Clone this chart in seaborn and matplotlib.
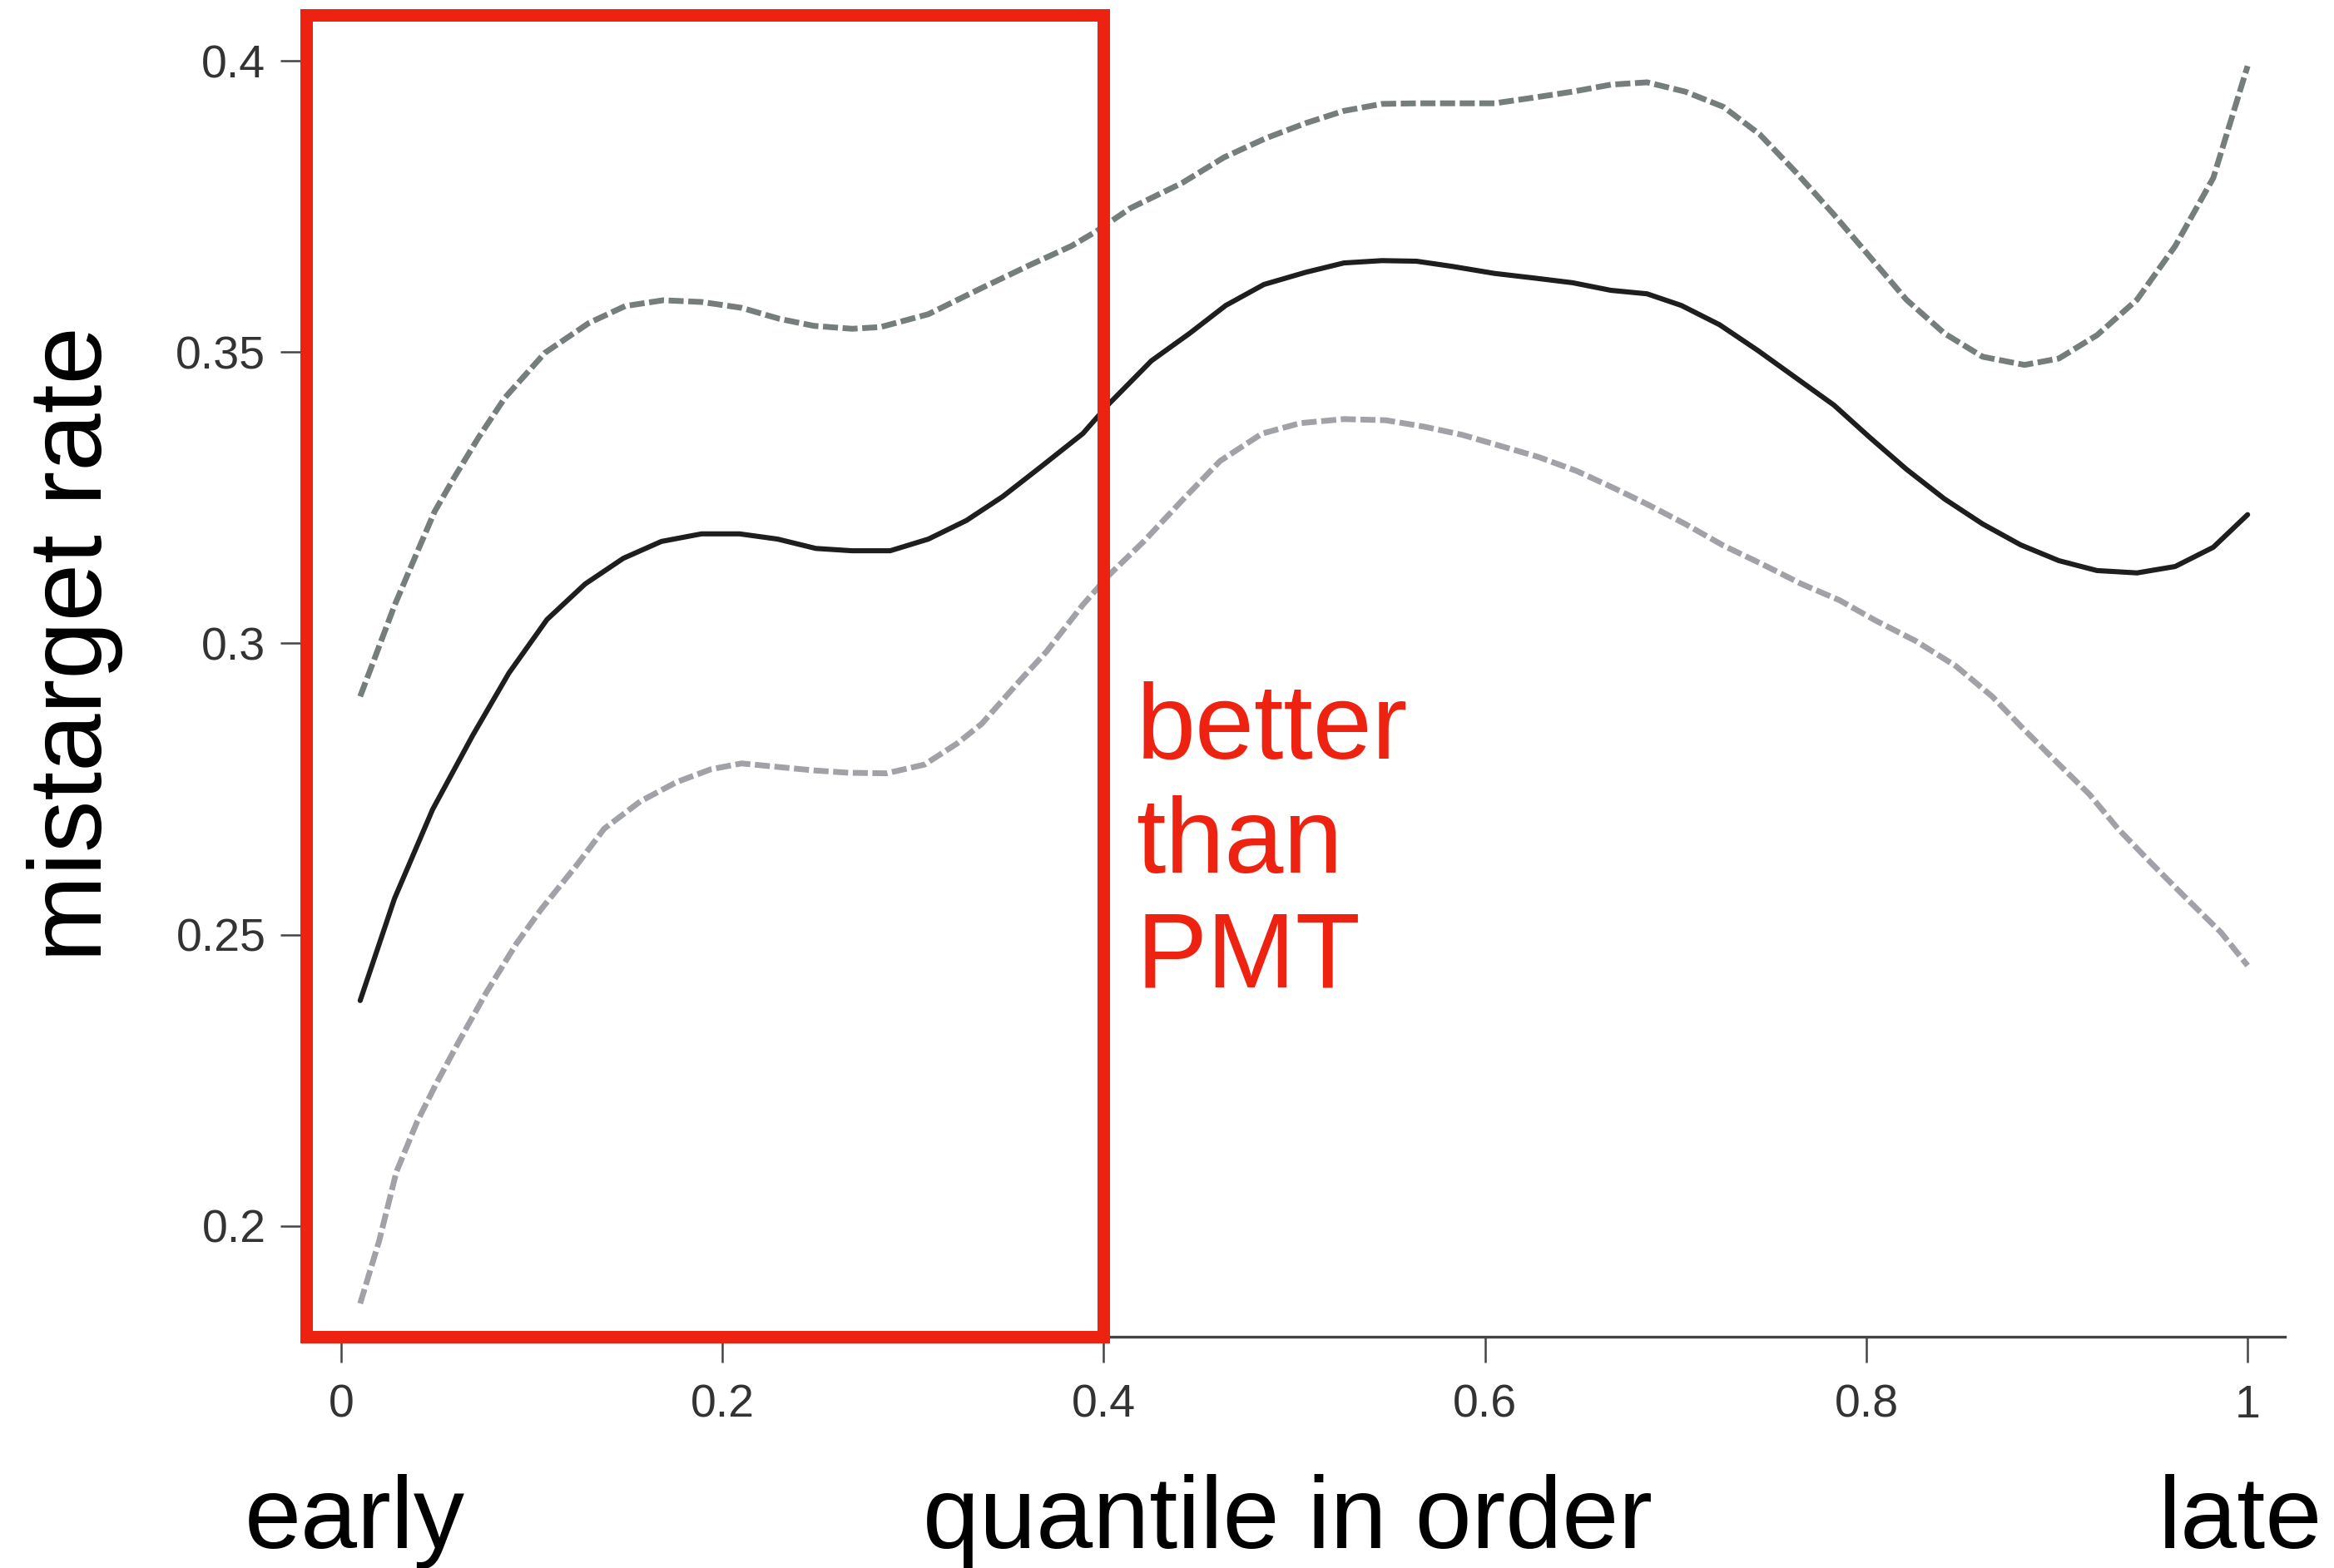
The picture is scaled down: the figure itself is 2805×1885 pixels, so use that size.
import numpy as np
import pandas as pd
import matplotlib
matplotlib.use("Agg")
import matplotlib.pyplot as plt
from matplotlib.patches import Rectangle
import seaborn as sns

# values
mean_x = [0.010, 0.028, 0.048, 0.069, 0.088, 0.108, 0.128, 0.148, 0.168, 0.189,
          0.209, 0.229, 0.249, 0.268, 0.288, 0.308, 0.328, 0.347, 0.367, 0.389,
          0.403, 0.425, 0.445, 0.464, 0.484, 0.506, 0.526, 0.546, 0.564, 0.583,
          0.605, 0.626, 0.646, 0.666, 0.685, 0.703, 0.723, 0.743, 0.763, 0.783,
          0.802, 0.821, 0.841, 0.861, 0.881, 0.901, 0.921, 0.942, 0.962, 0.982, 1.000]
mean_y = [0.2387, 0.2562, 0.2715, 0.2842, 0.2949, 0.3041, 0.3102, 0.3146, 0.3175, 0.3188,
          0.3188, 0.3179, 0.3163, 0.3159, 0.3159, 0.3179, 0.3211, 0.3252, 0.3303, 0.3360,
          0.3412, 0.3485, 0.3532, 0.3580, 0.3616, 0.3637, 0.3653, 0.3657, 0.3656, 0.3647,
          0.3635, 0.3627, 0.3619, 0.3606, 0.3600, 0.3580, 0.3547, 0.3503, 0.3456, 0.3409,
          0.3353, 0.3299, 0.3248, 0.3205, 0.3169, 0.3142, 0.3125, 0.3121, 0.3132, 0.3165, 0.3221]

upper_x = [0.010, 0.018, 0.028, 0.038, 0.049, 0.059, 0.072, 0.086, 0.107, 0.130,
           0.149, 0.169, 0.189, 0.210, 0.230, 0.248, 0.268, 0.283, 0.308, 0.336,
           0.361, 0.383, 0.396, 0.414, 0.441, 0.463, 0.485, 0.506, 0.526, 0.546,
           0.565, 0.583, 0.605, 0.626, 0.646, 0.666, 0.685, 0.705, 0.725, 0.744,
           0.763, 0.783, 0.802, 0.821, 0.841, 0.861, 0.883, 0.901, 0.921, 0.942,
           0.962, 0.982, 1.000]
upper_y = [0.2909, 0.2978, 0.3065, 0.3142, 0.3226, 0.3283, 0.3353, 0.3422, 0.3499, 0.3550,
           0.3579, 0.3589, 0.3586, 0.3576, 0.3557, 0.3545, 0.3540, 0.3543, 0.3565, 0.3610,
           0.3649, 0.3682, 0.3707, 0.3747, 0.3790, 0.3834, 0.3867, 0.3893, 0.3914, 0.3926,
           0.3927, 0.3927, 0.3927, 0.3937, 0.3947, 0.3959, 0.3963, 0.3947, 0.3921, 0.3874,
           0.3809, 0.3736, 0.3663, 0.3590, 0.3532, 0.3492, 0.3478, 0.3489, 0.3529, 0.3590,
           0.3682, 0.3799, 0.3991]

lower_x = [0.010, 0.020, 0.029, 0.040, 0.050, 0.062, 0.076, 0.092, 0.105, 0.123,
           0.138, 0.157, 0.176, 0.194, 0.210, 0.229, 0.248, 0.266, 0.286, 0.306,
           0.323, 0.336, 0.356, 0.370, 0.389, 0.403, 0.421, 0.441, 0.461, 0.483,
           0.503, 0.526, 0.548, 0.568, 0.588, 0.608, 0.628, 0.648, 0.668, 0.685,
           0.705, 0.725, 0.746, 0.766, 0.786, 0.805, 0.826, 0.847, 0.866, 0.881,
           0.899, 0.917, 0.932, 0.950, 0.968, 0.986, 1.000]
lower_y = [0.1867, 0.1975, 0.2093, 0.2180, 0.2245, 0.2318, 0.2400, 0.2485, 0.2544, 0.2617,
           0.2682, 0.2729, 0.2762, 0.2784, 0.2794, 0.2788, 0.2782, 0.2778, 0.2777, 0.2792,
           0.2828, 0.2862, 0.2936, 0.2986, 0.3066, 0.3118, 0.3175, 0.3245, 0.3313, 0.3360,
           0.3378, 0.3385, 0.3383, 0.3372, 0.3358, 0.3339, 0.3320, 0.3296, 0.3266, 0.3239,
           0.3205, 0.3168, 0.3135, 0.3102, 0.3074, 0.3039, 0.3004, 0.2961, 0.2909, 0.2858,
           0.2799, 0.2741, 0.2682, 0.2621, 0.2562, 0.2504, 0.2447]

x_ticks = [0, 0.2, 0.4, 0.6, 0.8, 1.0]
x_tick_labels = ["0", "0.2", "0.4", "0.6", "0.8", "1"]
y_ticks = [0.2, 0.25, 0.3, 0.35, 0.4]
y_tick_labels = ["0.2", "0.25", "0.3", "0.35", "0.4"]
note_lines = ["better", "than", "PMT"]

RED = "#ee2211"

sns.set_style("ticks")
plt.rcParams['font.family'] = ['Liberation Sans', 'DejaVu Sans']

fig = plt.figure(figsize=(28.05, 18.85), dpi=100)
ax = fig.add_axes([0.1312, 0.1475, 0.8478, 0.8509])

# confidence band (dashed) and mean (solid)
dash = (0, (2.6, 0.8))
sns.lineplot(x=upper_x, y=upper_y, ax=ax, color="#757d7d", lw=5.0, linestyle=dash, sort=False)
sns.lineplot(x=lower_x, y=lower_y, ax=ax, color="#a1a2a7", lw=5.0, linestyle=dash, sort=False)
sns.lineplot(x=mean_x, y=mean_y, ax=ax, color="#1e1e1e", lw=4.4, sort=False)

ax.set_xlim(-0.0183, 1.0196)
ax.set_ylim(0.181, 0.41)
ax.set_xticks(x_ticks)
ax.set_xticklabels(x_tick_labels)
ax.set_yticks(y_ticks)
ax.set_yticklabels(y_tick_labels)
ax.tick_params(axis='both', direction='out', length=22, width=1.8, color="#444444",
               labelsize=40, labelcolor="#333333")
ax.tick_params(axis='y', pad=13)
ax.tick_params(axis='x', pad=19)
ax.set_xlabel("")
ax.set_ylabel("")

sns.despine(ax=ax, top=True, right=True, left=True)
ax.spines['bottom'].set_linewidth(2.4)
ax.spines['bottom'].set_color("#444444")

# highlighted region
box = Rectangle((-0.0183, 0.181), 0.4183, 0.2269, fill=False, edgecolor=RED,
                lw=10.8, joinstyle='miter', clip_on=False, zorder=10)
ax.add_patch(box)

for line, yv in zip(note_lines, [0.2802, 0.2607, 0.2410]):
    ax.text(0.417, yv, line, color=RED, fontsize=92, ha='left', va='baseline')

fig.text(0.032, 0.5894, "mistarget rate", rotation=90, fontsize=90,
         ha='center', va='center', color="black")
fig.text(0.1519, 0.0127, "early", fontsize=88, ha='center', va='baseline', color="black")
fig.text(0.5515, 0.0127, "quantile in order", fontsize=88, ha='center', va='baseline',
         color="black")
fig.text(0.9597, 0.0127, "late", fontsize=88, ha='center', va='baseline', color="black")

fig.savefig("out.png", dpi=100, facecolor="white")
